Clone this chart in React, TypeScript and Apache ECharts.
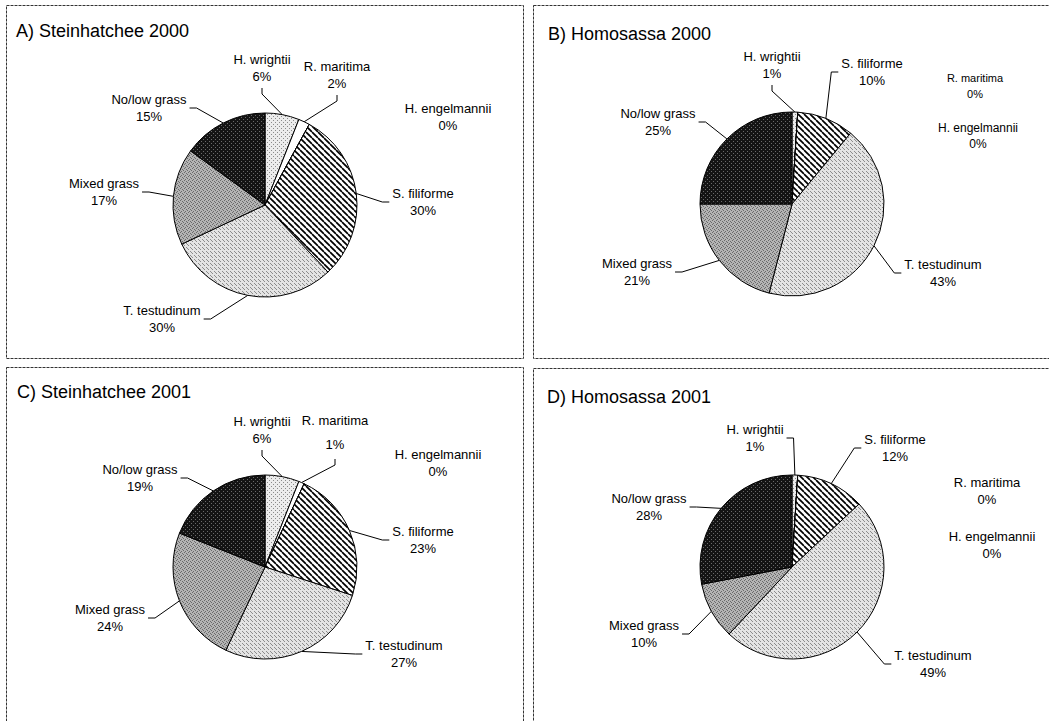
import React, { useEffect, useRef } from 'react';
import * as echarts from 'echarts';

// ---------- data ----------
const categories = [
  'H. wrightii',
  'R. maritima',
  'H. engelmannii',
  'S. filiforme',
  'T. testudinum',
  'Mixed grass',
  'No/low grass',
];
const steinhatchee2000 = [6, 2, 0, 30, 30, 17, 15];
const homosassa2000 = [1, 0, 0, 10, 43, 21, 25];
const steinhatchee2001 = [6, 1, 0, 23, 27, 24, 19];
const homosassa2001 = [1, 0, 0, 12, 49, 10, 28];
const panelTitles = [
  'A) Steinhatchee 2000',
  'B) Homosassa 2000',
  'C) Steinhatchee 2001',
  'D) Homosassa 2001',
];
const panelValues = [steinhatchee2000, homosassa2000, steinhatchee2001, homosassa2001];

// ---------- layout ----------
const FONT = '"Liberation Sans", Arial, Helvetica, sans-serif';
const pieCenters = [
  [265, 205],
  [792, 204],
  [265, 567],
  [792, 567],
];
const pieRadius = 92;
const titlePos = [
  [16, 31],
  [548, 34],
  [17, 392],
  [547, 397],
];
const borders = [
  [6.5, 5.5, 517, 353],
  [533.5, 5.5, 530, 353],
  [6.5, 367.5, 517, 370],
  [533.5, 368.5, 530, 370],
];
type Side = 'left' | 'right' | 'bottom' | 'none';
// label centre x, y, leader side, fontSize, lineHeight (per panel, per category)
const labelSpots: [number, number, Side, number, number][][] = [
  [
    [262, 68, 'bottom', 13, 17],
    [337, 75, 'bottom', 13, 17],
    [448, 117, 'none', 13, 17],
    [423, 202, 'left', 13, 17],
    [162, 319, 'right', 13, 17],
    [104, 192, 'right', 13, 17],
    [149, 108, 'right', 13, 17],
  ],
  [
    [772, 65, 'bottom', 13, 17],
    [975, 86, 'none', 11, 16],
    [978, 136, 'none', 12, 16],
    [872, 72, 'left', 13, 17],
    [943, 273, 'left', 13, 17],
    [637, 272, 'right', 13, 17],
    [658, 122, 'right', 13, 17],
  ],
  [
    [262, 430, 'bottom', 13, 17],
    [335, 432, 'bottom', 13, 24],
    [438, 463, 'none', 13, 17],
    [423, 540, 'left', 13, 17],
    [404, 654, 'left', 13, 17],
    [110, 618, 'right', 13, 17],
    [140, 478, 'right', 13, 17],
  ],
  [
    [755, 438, 'right', 13, 17],
    [987, 491, 'none', 13, 17],
    [992, 545, 'none', 13, 17],
    [895, 448, 'left', 13, 17],
    [933, 664, 'left', 13, 17],
    [644, 634, 'right', 13, 17],
    [649, 507, 'right', 13, 17],
  ],
];

function makeTile(size: number, bg: string, dots: [number, number][], dotColor: string, stripes = false) {
  const c = document.createElement('canvas');
  c.width = size;
  c.height = size;
  const g = c.getContext('2d')!;
  g.fillStyle = bg;
  g.fillRect(0, 0, size, size);
  if (stripes) {
    g.strokeStyle = '#000';
    g.lineWidth = 1.7;
    for (const k of [-size, 0, size]) {
      g.beginPath();
      g.moveTo(k, 0);
      g.lineTo(k + size, size);
      g.stroke();
    }
  }
  g.fillStyle = dotColor;
  dots.forEach(([x, y]) => g.fillRect(x, y, 1, 1));
  return { image: c, repeat: 'repeat', imageWidth: size, imageHeight: size } as any;
}

export default function App() {
  const ref = useRef<HTMLDivElement>(null);

  useEffect(() => {
    if (!ref.current) return;
    const chart = echarts.init(ref.current, undefined, { renderer: 'svg' });

    const fills = [
      makeTile(4, '#ececec', [[1, 0], [3, 2]], '#8a8a8a'),
      '#ffffff',
      '#ffffff',
      makeTile(6, '#ffffff', [], '#000', true),
      makeTile(4, '#e4e4e4', [[0, 1], [2, 3], [3, 0]], '#8c8c8c'),
      makeTile(4, '#b4b4b4', [[0, 0], [2, 1], [1, 3], [3, 2]], '#6a6a6a'),
      makeTile(4, '#141414', [[1, 1], [3, 3]], '#6a6a6a'),
    ];

    const graphics: any[] = [];
    borders.forEach(([x, y, w, h]) => {
      graphics.push({
        type: 'rect',
        shape: { x, y, width: w, height: h },
        style: { fill: 'none', stroke: '#333', lineWidth: 1, lineDash: [3, 1] },
        silent: true,
      });
    });
    panelTitles.forEach((t, i) => {
      graphics.push({
        type: 'text',
        x: titlePos[i][0],
        y: titlePos[i][1],
        style: {
          text: t,
          fill: '#000',
          font: `18px ${FONT}`,
          textAlign: 'left',
          textVerticalAlign: 'middle',
        },
        silent: true,
      });
    });

    const series = panelValues.map((vals, pi) => ({
      type: 'pie',
      center: pieCenters[pi],
      radius: pieRadius,
      startAngle: 90,
      clockwise: true,
      avoidLabelOverlap: false,
      silent: true,
      label: {
        show: true,
        position: 'outside',
        formatter: (p: any) => `${p.name}\n${p.value}%`,
        color: '#000',
        fontFamily: FONT,
        fontSize: 13,
        lineHeight: 17,
        align: 'center',
      },
      labelLine: {
        show: true,
        length: 10,
        length2: 10,
        lineStyle: { color: '#000', width: 1 },
      },
      itemStyle: { borderColor: '#000', borderWidth: 1 },
      data: categories.map((name, ci) => {
        const spot = labelSpots[pi][ci];
        return {
          name,
          value: vals[ci],
          itemStyle: { color: fills[ci] },
          label: { fontSize: spot[3], lineHeight: spot[4] },
          labelLine: { show: spot[2] !== 'none' },
        };
      }),
      labelLayout: (params: any) => {
        const spot = labelSpots[params.seriesIndex][params.dataIndex];
        const [x, y, side] = spot;
        const w = params.labelRect.width;
        const h = params.labelRect.height;
        const res: any = { x, y, align: 'center', verticalAlign: 'middle' };
        const pts = params.labelLinePoints;
        if (side !== 'none' && pts && pts.length) {
          const start = pts[0];
          let end: number[];
          let elbow: number[];
          if (side === 'left') {
            end = [x - w / 2 - 3, y];
            elbow = [end[0] - 7, y];
          } else if (side === 'right') {
            end = [x + w / 2 + 3, y];
            elbow = [end[0] + 7, y];
          } else {
            end = [x, y + h / 2 + 3];
            elbow = [x, end[1] + 6];
          }
          res.labelLinePoints = [start, elbow, end];
        }
        return res;
      },
    }));

    chart.setOption({
      animation: false,
      backgroundColor: '#ffffff',
      graphic: graphics,
      series,
    } as any);

    return () => chart.dispose();
  }, []);

  return (
    <div
      ref={ref}
      style={{ position: 'fixed', left: 0, top: 0, width: 1049, height: 721, background: '#fff' }}
    />
  );
}
